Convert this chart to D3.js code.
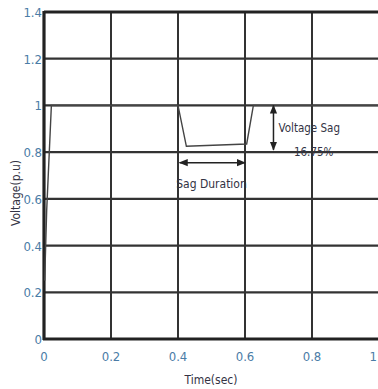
<!DOCTYPE html>
<html>
<head>
<meta charset="utf-8">
<script src="https://cdn.jsdelivr.net/npm/d3@7"></script>
<style>
  body { margin: 0; background: #fff; }
  text { font-family: "Liberation Sans Narrow", "DejaVu Sans Condensed", Arial, sans-serif; }
</style>
</head>
<body>
<div id="chart"></div>
<script>
// Voltage waveform (p.u.) vs time (sec)
const times    = [0.002, 0.008, 0.022, 0.026, 0.40, 0.425, 0.605, 0.625, 1.0];
const voltages = [0.25, 0.55, 1.0, 1.0, 1.0, 0.825, 0.835, 1.0, 1.0];

const xTicks = [0, 0.2, 0.4, 0.6, 0.8, 1];
const yTicks = [0, 0.2, 0.4, 0.6, 0.8, 1, 1.2, 1.4];
const tickLabels = ["0", "0.2", "0.4", "0.6", "0.8", "1", "1.2", "1.4"];

const data = times.map((t, i) => ({ t: t, v: voltages[i] }));

const width = 378, height = 389;
const svg = d3.select("#chart").append("svg")
    .attr("width", width)
    .attr("height", height);

const x = d3.scaleLinear().domain([0, 1]).range([44, 379]);
const y = d3.scaleLinear().domain([0, 1.4]).range([339, 12]);

const labelColor = "#4a7ca6";

// Grid
svg.append("g").selectAll("line")
    .data(yTicks)
    .join("line")
    .attr("x1", x(0)).attr("x2", x(1))
    .attr("y1", d => y(d)).attr("y2", d => y(d))
    .attr("stroke", "#333").attr("stroke-width", 2.2);

svg.append("g").selectAll("line")
    .data(xTicks)
    .join("line")
    .attr("x1", d => x(d)).attr("x2", d => x(d))
    .attr("y1", y(0)).attr("y2", y(1.4))
    .attr("stroke", "#333").attr("stroke-width", 2);

// Axes frame
svg.append("line")
    .attr("x1", x(0)).attr("x2", x(0))
    .attr("y1", y(0) + 1).attr("y2", y(1.4) - 1)
    .attr("stroke", "#222").attr("stroke-width", 3.2);
svg.append("line")
    .attr("x1", x(0) - 1).attr("x2", x(1))
    .attr("y1", y(0)).attr("y2", y(0))
    .attr("stroke", "#222").attr("stroke-width", 3.2);
svg.append("line")
    .attr("x1", x(0)).attr("x2", x(1))
    .attr("y1", y(1.4)).attr("y2", y(1.4))
    .attr("stroke", "#222").attr("stroke-width", 3);

// Tick labels
svg.append("g").selectAll("text")
    .data(yTicks)
    .join("text")
    .attr("x", x(0) - 2)
    .attr("y", d => y(d) + 5)
    .attr("text-anchor", "end")
    .attr("font-size", 13)
    .attr("fill", labelColor)
    .text((d, i) => tickLabels[i]);

svg.append("g").selectAll("text")
    .data(xTicks)
    .join("text")
    .attr("x", d => d === 1 ? width - 1 : x(d))
    .attr("y", y(0) + 22)
    .attr("text-anchor", d => d === 1 ? "end" : "middle")
    .attr("font-size", 13)
    .attr("fill", labelColor)
    .text(d => d === 0 ? "0" : d === 1 ? "1" : d.toFixed(1));

// Axis titles
svg.append("text")
    .attr("transform", "translate(20," + 193 + ") rotate(-90)")
    .attr("text-anchor", "middle")
    .attr("font-size", 12)
    .attr("fill", "#334")
    .text("Voltage(p.u)");

svg.append("text")
    .attr("x", 211)
    .attr("y", 384)
    .attr("text-anchor", "middle")
    .attr("font-size", 12)
    .attr("fill", "#334")
    .text("Time(sec)");

// Signal
const line = d3.line()
    .x(d => x(d.t))
    .y(d => y(d.v));

svg.append("path")
    .datum(data)
    .attr("fill", "none")
    .attr("stroke", "#444")
    .attr("stroke-width", 1.4)
    .attr("d", line);

// Annotations
const defs = svg.append("defs");
defs.append("marker")
    .attr("id", "arr")
    .attr("viewBox", "0 0 10 10")
    .attr("refX", 9).attr("refY", 5)
    .attr("markerWidth", 6).attr("markerHeight", 6)
    .attr("orient", "auto-start-reverse")
    .append("path")
    .attr("d", "M0,1 L10,5 L0,9 Z")
    .attr("fill", "#222");

// Voltage sag vertical arrow
svg.append("line")
    .attr("x1", x(0.685)).attr("x2", x(0.685))
    .attr("y1", y(1.0)).attr("y2", y(0.81))
    .attr("stroke", "#222").attr("stroke-width", 1.5)
    .attr("marker-start", "url(#arr)")
    .attr("marker-end", "url(#arr)");

// Sag duration horizontal arrow
svg.append("line")
    .attr("x1", x(0.405)).attr("x2", x(0.6))
    .attr("y1", y(0.755)).attr("y2", y(0.755))
    .attr("stroke", "#222").attr("stroke-width", 1.5)
    .attr("marker-start", "url(#arr)")
    .attr("marker-end", "url(#arr)");

svg.append("text")
    .attr("x", x(0.7))
    .attr("y", y(0.905) + 4)
    .attr("font-size", 11.5)
    .attr("fill", "#334")
    .text("Voltage Sag");

svg.append("text")
    .attr("x", x(0.805))
    .attr("y", y(0.8) + 4)
    .attr("text-anchor", "middle")
    .attr("font-size", 11.5)
    .attr("fill", "#334")
    .text("16.75%");

svg.append("text")
    .attr("x", x(0.5))
    .attr("y", y(0.665) + 4)
    .attr("text-anchor", "middle")
    .attr("font-size", 12)
    .attr("fill", "#334")
    .text("Sag Duration");
</script>
</body>
</html>
